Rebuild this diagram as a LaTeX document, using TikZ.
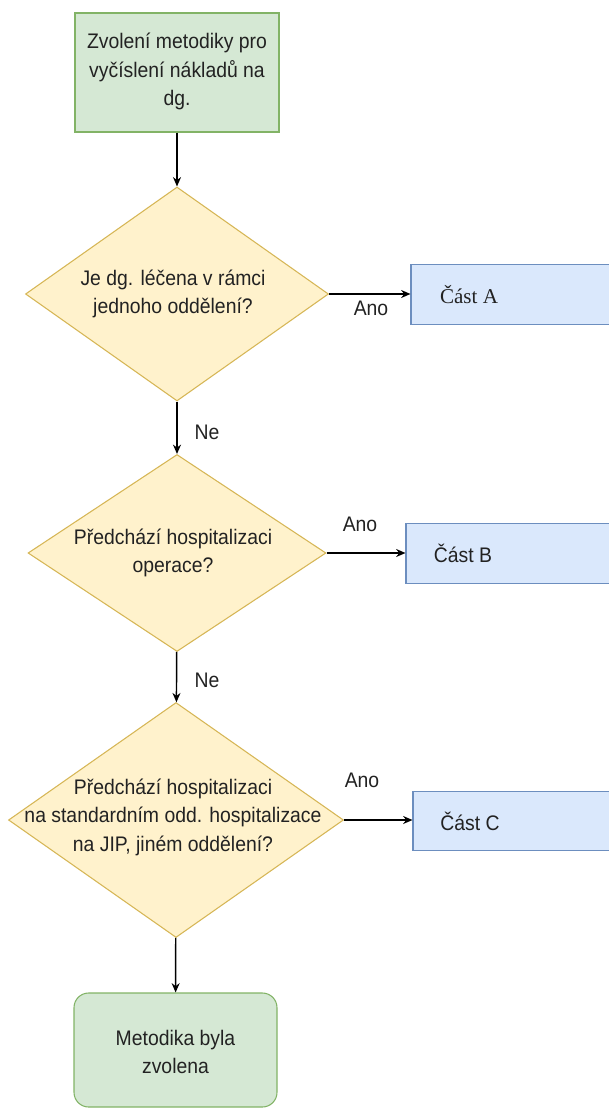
\documentclass[tikz,border=0pt]{standalone}
\usepackage{fontspec}
\setmainfont[FakeStretch=0.92]{Liberation Sans}
\newfontfamily\serif{Liberation Serif}
\usetikzlibrary{arrows.meta,shapes.geometric}
\definecolor{gfill}{HTML}{D5E8D4}\definecolor{gline}{HTML}{82B366}
\definecolor{yfill}{HTML}{FFF2CC}\definecolor{yline}{HTML}{D6B656}
\definecolor{bfill}{HTML}{DAE8FC}\definecolor{bline}{HTML}{6C8EBF}
\definecolor{ink}{HTML}{222222}
\tikzset{
  >={Stealth[length=7pt,width=6pt]},
  g/.style={rectangle,draw=gline,fill=gfill,line width=0.8pt},
  q/.style={diamond,draw=yline,fill=yfill,line width=0.8pt,inner sep=0pt},
  part/.style={rectangle,draw=bline,fill=bfill,line width=0.8pt,minimum width=165pt,minimum height=44.5pt},
  t/.style={align=center,text=ink,inner sep=0pt,font=\fontsize{15.8}{21.4}\selectfont},
  lbl/.style={text=ink,inner sep=0pt,font=\fontsize{15.8}{17}\selectfont},
  every picture/.style={line width=1.1pt},
}
\begin{document}
\begin{tikzpicture}[x=0.75pt,y=-0.75pt]
\useasboundingbox (0,0) rectangle (609,1109);
\clip (0,0) rectangle (609,1109);
\node[g,minimum width=153pt,minimum height=89.25pt] (s) at (177,72.5){};
\node[t] (ts) at (177,71.5){Zvolení metodiky pro\\vyčíslení nákladů na\\dg.};
\node[q,minimum width=227.25pt,minimum height=160.5pt] (d1) at (177,294){};
\node[t] (t1) at (173,294){Je dg. léčena v rámci\\jednoho oddělení?};
\node[q,minimum width=223.5pt,minimum height=147.75pt] (d2) at (177,553){};
\node[t] (t2) at (173,553){Předchází hospitalizaci\\operace?};
\node[q,minimum width=251.25pt,minimum height=176.25pt] (d3) at (176,820){};
\node[t] (t3) at (173,817){Předchází hospitalizaci\\na standardním odd. hospitalizace\\na JIP, jiném oddělení?};
\node[g,rounded corners=11pt,minimum width=152.25pt,minimum height=85.5pt] (e) at (175.5,1050){};
\node[t] (te) at (175.5,1052){Metodika byla\\zvolena};
\node[part] (a) at (521,294.5){}; \node[t] (ta) at (469,294.5){\serif Část A};
\node[part] (b) at (516,553.5){}; \node[t] (tb) at (463,553.5){Část B};
\node[part] (c) at (523,821){}; \node[t] (tc) at (470,821){Část C};
\draw[->] (s)--(d1); \draw[->] (d1)--(d2); \draw[->] (d2)--(d3); \draw[->] (d3)--(e);
\draw[->] (d1.east)--(a.west|-d1.east); \draw[->] (d2.east)--(b.west|-d2.east); \draw[->] (d3.east)--(c.west|-d3.east);
\node[lbl] (ne1) at (207,432){Ne}; \node[lbl] (ne2) at (207,680){Ne};
\node[lbl] (an1) at (371,308){Ano}; \node[lbl] (an2) at (360,524){Ano}; \node[lbl] (an3) at (362,780){Ano};
\end{tikzpicture}
\end{document}
